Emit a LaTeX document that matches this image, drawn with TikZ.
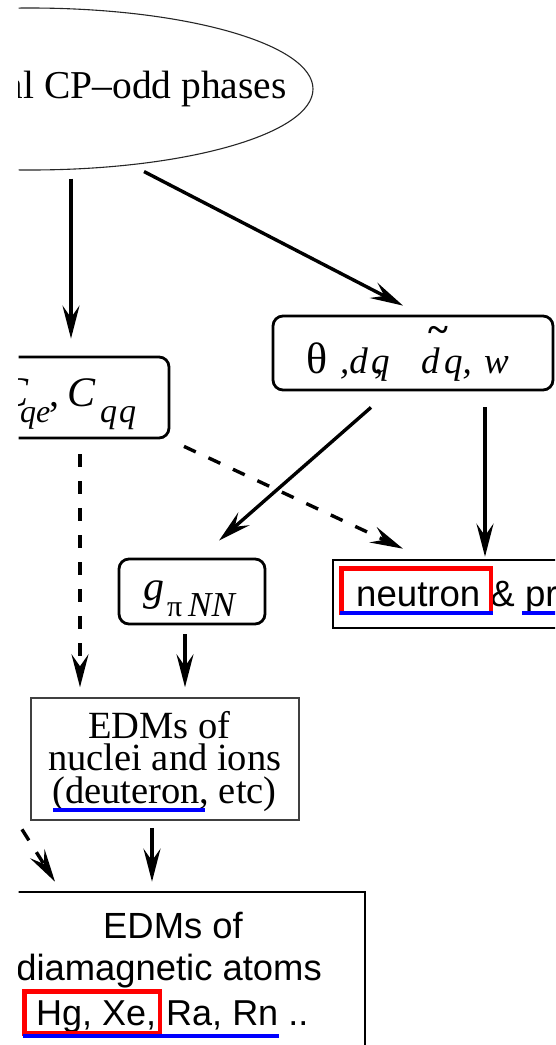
\documentclass[tikz,border=0pt]{standalone}
\usepackage{fontspec}
\setmainfont{Liberation Serif}
\newfontfamily\arialf{Liberation Sans}
\usetikzlibrary{arrows.meta,calc,shapes.geometric}
\newcommand\fsz[1]{\fontsize{#1}{#1}\selectfont}
\begin{document}
\begin{tikzpicture}[x=1pt,y=-1pt,
  arr/.style={line width=3.4pt,-{Stealth[length=33pt,width=17pt,inset=12pt]}},
  dsh/.style={arr,dash pattern=on 13pt off 14pt},
  rbox/.style={draw,line width=2.8pt,rounded corners=10pt,inner sep=0pt},
  sbox/.style={draw,line width=2.6pt,inner sep=0pt},
  txt/.style={inner sep=0pt,anchor=base west},
  redbox/.style={draw=red,line width=4.5pt},
  ul/.style={fill=blue}
]
\useasboundingbox (0,0) rectangle (555,1045);
\clip (18.5,0) rectangle (555,1045);

% source ellipse
\node[ellipse,draw=black!85,line width=1.1pt,minimum width=566pt,minimum height=162pt,inner sep=0pt] (src) at (30,89) {};
\node[txt,anchor=base east] (srct) at (287,98) {\fsz{39.5}al CP–odd phases};

% boxes
\node[rbox,minimum width=280pt,minimum height=74pt] (theta) at (413,353) {};
\node[rbox,minimum width=189pt,minimum height=81pt] (cqe) at (74.5,397.5) {};
\node[rbox,minimum width=146pt,minimum height=65pt] (g) at (192,591.5) {};
\node[sbox,minimum width=267pt,minimum height=68pt] (nn) at (466.5,594) {};
\node[draw=black!75,line width=1.5pt,minimum width=268pt,minimum height=122pt,inner sep=0pt] (nuc) at (165,759) {};
\node[sbox,minimum width=385pt,minimum height=208pt] (dia) at (172.5,996) {};

% theta box text
\node[txt] (th1) at (306,373) {\fsz{44}θ};
\node[txt] (th2) at (340,373) {\fsz{37}\itshape ,d};
\node[txt] (th3) at (371,373) {\fsz{37}\itshape q};
\node[txt] (th3b) at (374,373) {\fsz{37},};
\node[txt] (th4) at (421,373) {\fsz{37}\itshape d};
\node[inner sep=0pt] (th4t) at (438,334) {\fsz{38}\bfseries\textasciitilde};
\node[txt] (th5) at (444,373) {\fsz{37}\itshape q,};
\node[txt] (th6) at (484,373) {\fsz{37}\itshape w};

% Cqe box text
\node[txt,anchor=base east] (cq1) at (29,406) {\fsz{42}\itshape C};
\node[txt] (cq2) at (20,422) {\fsz{32}\itshape qe};
\node[txt] (cq3) at (49,406) {\fsz{40},};
\node[txt] (cq4) at (67,406) {\fsz{42}\itshape C};
\node[txt] (cq5) at (100,422) {\fsz{34}\itshape q\kern2pt q};

% g box text
\node[txt] (g1) at (143,600) {\fsz{42}\itshape g};
\node[txt] (g2) at (167,616) {\fsz{30}π};
\node[txt] (g3) at (188,616) {\fsz{35}\itshape NN};

% neutron box
\node[txt] (nnt) at (356,606) {\arialf\fsz{36.6}neutron \& pr};

% nuclei box
\node[txt] (nu1) at (88,738) {\fsz{38.5}EDMs of};
\node[txt] (nu2) at (48,770) {\fsz{38.5}nuclei and ions};
\node[txt] (nu3) at (52,803) {\fsz{38.5}(deuteron, etc)};

% diamagnetic box
\node[txt] (di1) at (103,938) {\arialf\fsz{36.4}EDMs of};
\node[txt,anchor=base east] (di2) at (322,980) {\arialf\fsz{36.4}diamagnetic atoms};
\node[txt] (di3) at (36,1025) {\arialf\fsz{36}Hg, Xe, Ra, Rn ..};

% highlight marks
\draw[redbox] (341.25,568.25) rectangle (490.75,612.75);
\fill[ul] (340,611) rectangle (493,615);
\fill[ul] (522,611) rectangle (556,615);
\fill[ul] (53,808) rectangle (205,812);
\draw[redbox] (24.25,991.25) rectangle (159.75,1033.5);
\fill[ul] (23,1034) rectangle (279,1038);

% connectors
\draw[arr] ($(src.south)+(41,8)$) -- ($(cqe.north)+(-3.5,-17)$);
\draw[arr] ($(src.south)+(114,1)$) -- ($(theta.north)+(-10,-9)$);
\draw[arr] ($(theta.south)+(-42,16)$) -- ($(g.north)+(27,-17)$);
\draw[arr] ($(theta.south)+(72,16)$) -- ($(nn.north)+(18.5,-2)$);
\draw[dsh] ($(cqe.south)+(109.5,7)$) -- ($(nn.north)+(-63.5,-10)$);
\draw[dsh] ($(cqe.south)+(5.5,15)$) -- ($(nuc.north)+(-85,-10)$);
\draw[arr] ($(g.south)+(-7,9)$) -- ($(nuc.north)+(20,-10)$);
\draw[arr] ($(nuc.south)+(-13,7)$) -- ($(dia.north)+(-20.5,-9)$);
\coordinate (dsrc) at (-29.8,747.3);
\draw[dsh,dash phase=11pt] (dsrc) -- ($(dia.north)+(-117.5,-9)$);
\end{tikzpicture}
\end{document}
